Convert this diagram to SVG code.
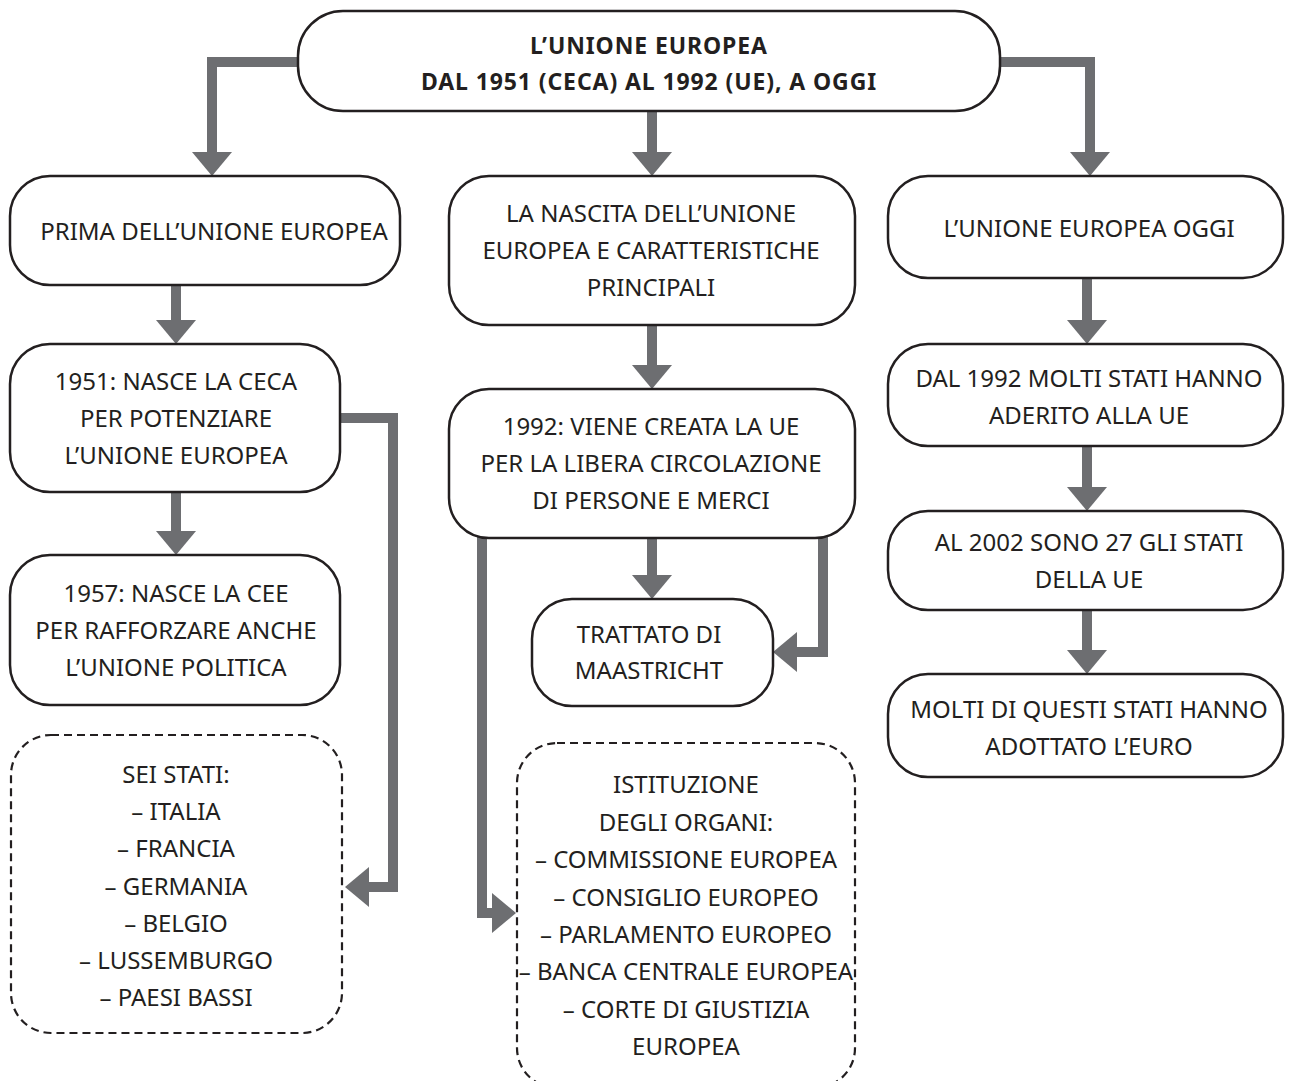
<svg xmlns="http://www.w3.org/2000/svg" width="1295" height="1081" viewBox="0 0 1295 1081">
<style>
.n{fill:#fff;stroke:#231f20;stroke-width:2.5}
.d{fill:#fff;stroke:#231f20;stroke-width:2.2;stroke-dasharray:8 5}
.t{font-family:"Noto Sans","Open Sans",sans-serif;font-size:24px;fill:#231f20;text-anchor:middle}
.b{font-weight:bold;font-size:23px;letter-spacing:0.9px}
.c{fill:none;stroke:#6d6e71;stroke-width:10;marker-end:url(#ah)}
</style>
<defs>
<marker id="ah" viewBox="0 0 24 40" refX="0" refY="20" markerWidth="24" markerHeight="40" markerUnits="userSpaceOnUse" orient="auto">
<path d="M0,0 L24,20 L0,40 z" fill="#6d6e71"/>
</marker>
</defs>
<rect width="1295" height="1081" fill="#fff"/>
<g id="connectors">
<path class="c" d="M300,62 H212 V152"/>
<path class="c" d="M652,110 V152"/>
<path class="c" d="M998,62 H1090 V152"/>
<path class="c" d="M176,284 V320"/>
<path class="c" d="M652,324 V365"/>
<path class="c" d="M1087,277 V320"/>
<path class="c" d="M176,491 V531"/>
<path class="c" d="M1087,445 V487"/>
<path class="c" d="M1087,609 V650"/>
<path class="c" d="M652,537 V575"/>
<path class="c" d="M823,534 V652 H797"/>
<path class="c" d="M482,534 V913 H492"/>
<path class="c" d="M338,418 H393 V887 H369"/>
</g>
<g id="top">
<rect class="n" x="298" y="11" width="702" height="100" rx="45"/>
<text class="t b" x="649" y="54">L’UNIONE EUROPEA</text>
<text class="t b" x="649" y="90">DAL 1951 (CECA) AL 1992 (UE), A OGGI</text>
</g>
<g id="prima">
<rect class="n" x="10" y="176" width="390" height="109" rx="40"/>
<text class="t" x="214" y="240">PRIMA DELL’UNIONE EUROPEA</text>
</g>
<g id="nascita">
<rect class="n" x="449" y="176" width="406" height="149" rx="40"/>
<text class="t" x="651" y="222">LA NASCITA DELL’UNIONE</text>
<text class="t" x="651" y="259">EUROPEA E CARATTERISTICHE</text>
<text class="t" x="651" y="296">PRINCIPALI</text>
</g>
<g id="oggi">
<rect class="n" x="888" y="176" width="395" height="102" rx="40"/>
<text class="t" x="1089" y="237">L’UNIONE EUROPEA OGGI</text>
</g>
<g id="ceca">
<rect class="n" x="10" y="344" width="330" height="148" rx="40"/>
<text class="t" x="176" y="390">1951: NASCE LA CECA</text>
<text class="t" x="176" y="427">PER POTENZIARE</text>
<text class="t" x="176" y="464">L’UNIONE EUROPEA</text>
</g>
<g id="ue1992">
<rect class="n" x="449" y="389" width="406" height="149" rx="40"/>
<text class="t" x="651" y="435">1992: VIENE CREATA LA UE</text>
<text class="t" x="651" y="472">PER LA LIBERA CIRCOLAZIONE</text>
<text class="t" x="651" y="509">DI PERSONE E MERCI</text>
</g>
<g id="aderito">
<rect class="n" x="888" y="344" width="395" height="102" rx="40"/>
<text class="t" x="1089" y="387">DAL 1992 MOLTI STATI HANNO</text>
<text class="t" x="1089" y="424">ADERITO ALLA UE</text>
</g>
<g id="cee">
<rect class="n" x="10" y="555" width="330" height="150" rx="40"/>
<text class="t" x="176" y="602">1957: NASCE LA CEE</text>
<text class="t" x="176" y="639">PER RAFFORZARE ANCHE</text>
<text class="t" x="176" y="676">L’UNIONE POLITICA</text>
</g>
<g id="maastricht">
<rect class="n" x="532" y="599" width="241" height="107" rx="40"/>
<text class="t" x="649" y="643">TRATTATO DI</text>
<text class="t" x="649" y="679">MAASTRICHT</text>
</g>
<g id="stati27">
<rect class="n" x="888" y="511" width="395" height="99" rx="40"/>
<text class="t" x="1089" y="551">AL 2002 SONO 27 GLI STATI</text>
<text class="t" x="1089" y="588">DELLA UE</text>
</g>
<g id="euro">
<rect class="n" x="888" y="674" width="395" height="103" rx="40"/>
<text class="t" x="1089" y="718">MOLTI DI QUESTI STATI HANNO</text>
<text class="t" x="1089" y="755">ADOTTATO L’EURO</text>
</g>
<g id="seistati">
<rect class="d" x="11" y="735" width="331" height="298" rx="40"/>
<text class="t" x="176" y="783">SEI STATI:</text>
<text class="t" x="176" y="820">– ITALIA</text>
<text class="t" x="176" y="857">– FRANCIA</text>
<text class="t" x="176" y="895">– GERMANIA</text>
<text class="t" x="176" y="932">– BELGIO</text>
<text class="t" x="176" y="969">– LUSSEMBURGO</text>
<text class="t" x="176" y="1006">– PAESI BASSI</text>
</g>
<g id="organi">
<rect class="d" x="517" y="743" width="338" height="345" rx="40"/>
<text class="t" x="686" y="793">ISTITUZIONE</text>
<text class="t" x="686" y="831">DEGLI ORGANI:</text>
<text class="t" x="686" y="868">– COMMISSIONE EUROPEA</text>
<text class="t" x="686" y="906">– CONSIGLIO EUROPEO</text>
<text class="t" x="686" y="943">– PARLAMENTO EUROPEO</text>
<text class="t" x="686" y="980">– BANCA CENTRALE EUROPEA</text>
<text class="t" x="686" y="1018">– CORTE DI GIUSTIZIA</text>
<text class="t" x="686" y="1055">EUROPEA</text>
</g>
</svg>
